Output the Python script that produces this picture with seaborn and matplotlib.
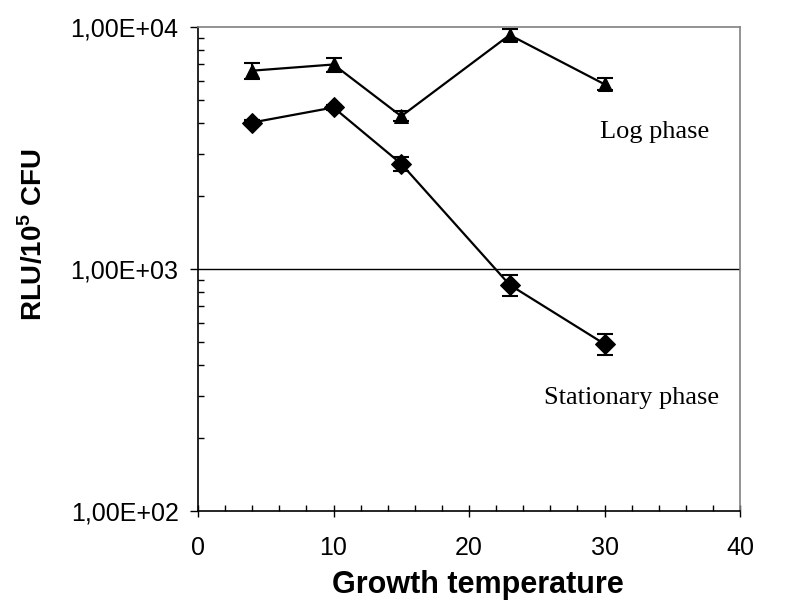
import numpy as np
import pandas as pd
import matplotlib
matplotlib.use("Agg")
import matplotlib.pyplot as plt
import matplotlib.ticker as mticker
import seaborn as sns

# ---- data ----
temperature = [4, 10, 15, 23, 30]
log_phase = [6600, 7000, 4280, 9270, 5800]
log_phase_err = [500, 460, 200, 520, 330]
stationary_phase = [4030, 4650, 2720, 860, 490]
stationary_phase_err = [110, 130, 190, 85, 48]
ytick_values = [100, 1000, 10000]
ytick_labels = ["1,00E+02", "1,00E+03", "1,00E+04"]
xtick_values = [0, 10, 20, 30, 40]

sns.set_theme(style="white")
plt.rcParams["font.family"] = ["Liberation Sans", "DejaVu Sans"]
plt.rcParams["mathtext.fontset"] = "custom"
plt.rcParams["mathtext.rm"] = "Liberation Sans"
plt.rcParams["mathtext.bf"] = "Liberation Sans:bold"
plt.rcParams["text.color"] = "black"
plt.rcParams["axes.labelcolor"] = "black"
plt.rcParams["xtick.color"] = "black"
plt.rcParams["ytick.color"] = "black"

df = pd.DataFrame({
    "temp": temperature * 2,
    "rlu": log_phase + stationary_phase,
    "phase": ["Log"] * len(temperature) + ["Stationary"] * len(temperature),
})

fig = plt.figure(figsize=(7.88, 6.01), dpi=100)
ax = fig.add_axes([198 / 788, 1 - 511 / 601, (740 - 198) / 788, (511 - 27) / 601])

ax.set_yscale("log")
ax.axhline(1000, color="black", lw=1.0, zorder=1)

sns.lineplot(data=df, x="temp", y="rlu", style="phase",
             markers={"Log": "^", "Stationary": "D"}, dashes=False,
             color="black", lw=1.6, markersize=10, markeredgecolor="black",
             legend=False, ax=ax, zorder=3)

ax.errorbar(temperature, log_phase, yerr=log_phase_err, fmt="none",
            ecolor="black", elinewidth=1.5, capsize=6, capthick=1.5, zorder=2)
ax.errorbar(temperature, stationary_phase, yerr=stationary_phase_err, fmt="none",
            ecolor="black", elinewidth=1.5, capsize=6, capthick=1.5, zorder=2)

ax.set_xlim(0, 40)
ax.set_ylim(100, 10000)

ax.set_xticks(xtick_values)
ax.xaxis.set_minor_locator(mticker.MultipleLocator(2))
ax.set_yticks(ytick_values)
ax.set_yticklabels(ytick_labels)
ax.yaxis.set_minor_locator(mticker.LogLocator(base=10, subs=np.arange(2, 10)))
ax.yaxis.set_minor_formatter(mticker.NullFormatter())

ax.tick_params(axis="x", which="major", direction="inout", length=8, width=1,
               color="black", labelcolor="black", labelsize=18, pad=14, bottom=True)
ax.tick_params(axis="x", which="minor", direction="in", length=4, width=1,
               color="black", bottom=True)
ax.tick_params(axis="y", which="major", direction="out", length=6, width=1,
               color="black", labelcolor="black", labelsize=18, pad=8, left=True)
ax.tick_params(axis="y", which="minor", direction="in", length=4, width=1,
               color="black", left=True)

for s in ["left", "bottom"]:
    ax.spines[s].set_color("black")
    ax.spines[s].set_linewidth(1.2)
for s in ["top", "right"]:
    ax.spines[s].set_color("#808080")
    ax.spines[s].set_linewidth(1.2)

ax.set_xlabel("Growth temperature", fontsize=22, fontweight="bold", color="black")
ax.xaxis.set_label_coords(0.517, -0.122)
ax.set_ylabel(r"RLU/10$^{\mathbf{5}}$ CFU", fontsize=20, fontweight="bold", color="black")
ax.yaxis.set_label_coords(-0.276, 0.57)

ax.text(33.7, 3480, "Log phase", fontsize=19, family=["Liberation Serif"],
        ha="center", va="baseline", color="black")
ax.text(32.0, 278, "Stationary phase", fontsize=19, family=["Liberation Serif"],
        ha="center", va="baseline", color="black")

fig.savefig("out.png", dpi=100, facecolor="white")
